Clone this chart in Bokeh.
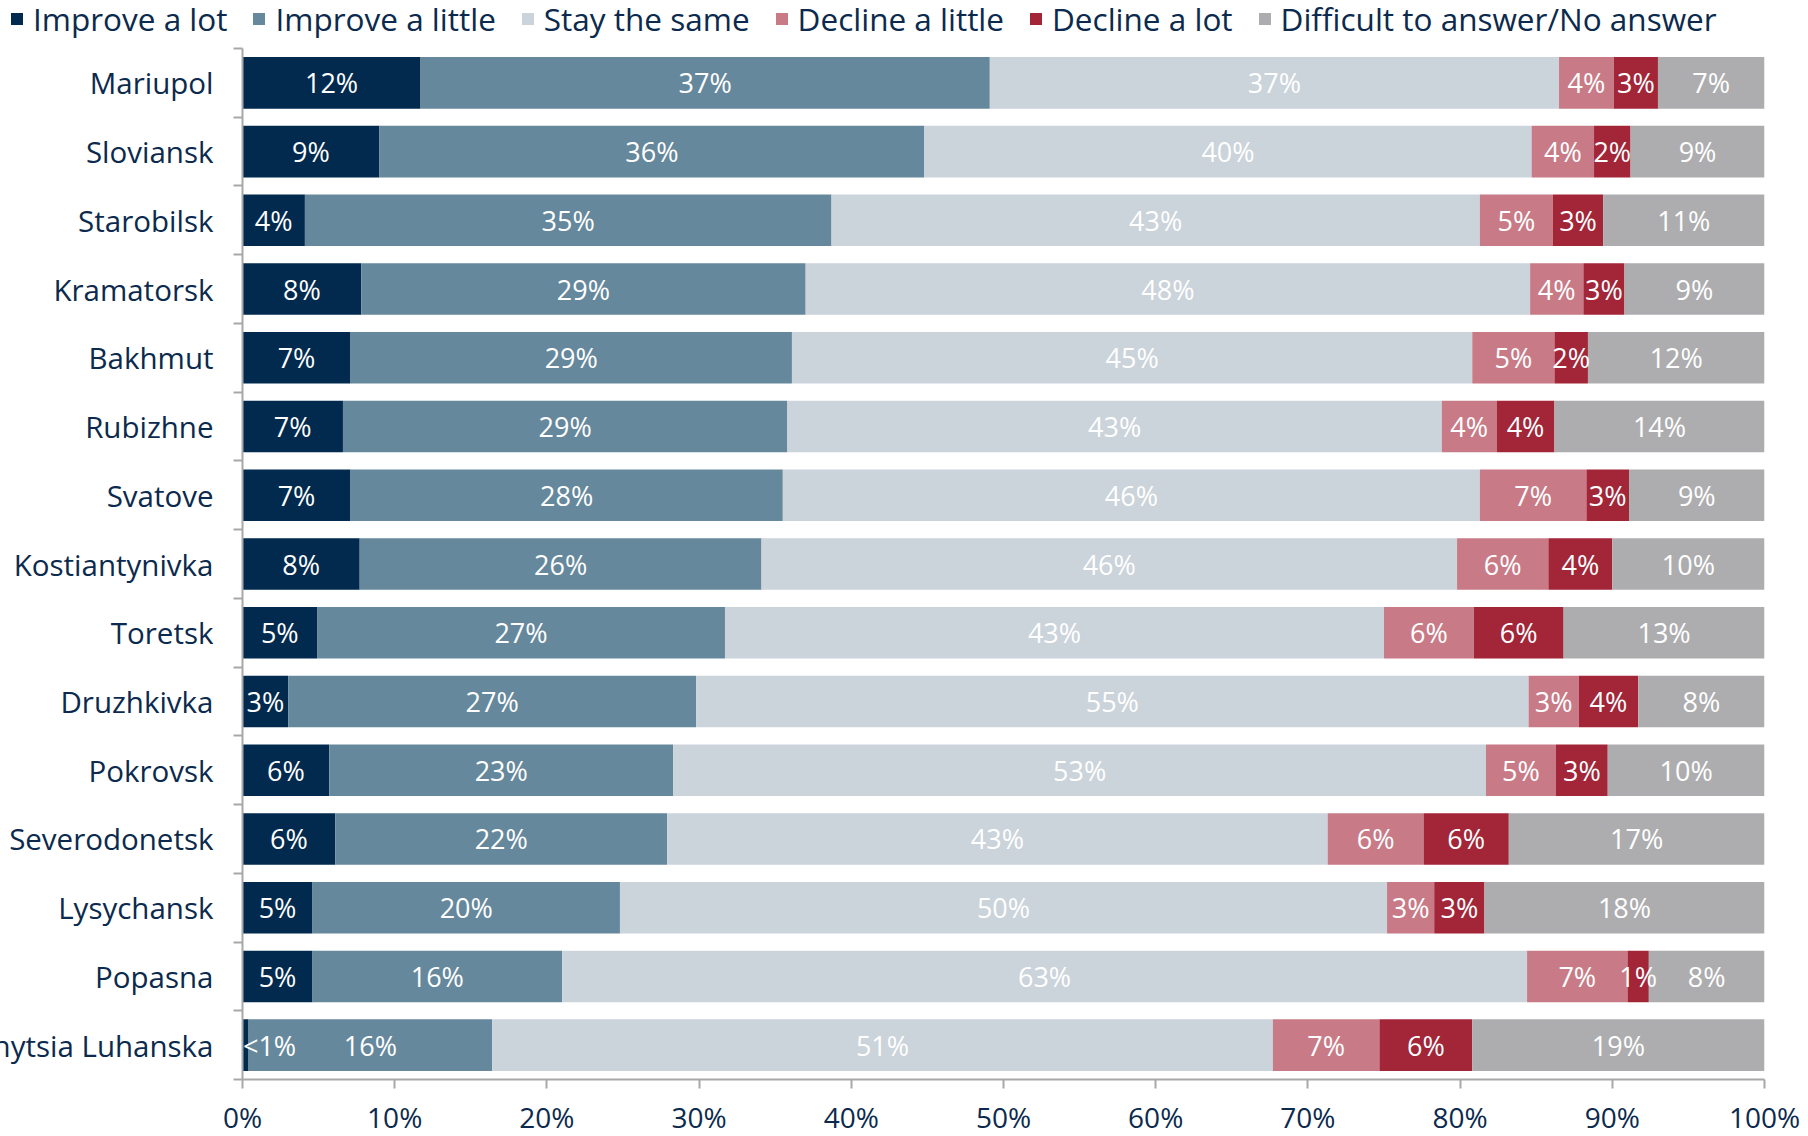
from bokeh.plotting import figure
from bokeh.layouts import column
from bokeh.models import ColumnDataSource, FixedTicker, Range1d, Legend, LegendItem
from bokeh.core.properties import value
from bokeh.embed import file_html
from bokeh.resources import INLINE

cities = ["Mariupol", "Sloviansk", "Starobilsk", "Kramatorsk", "Bakhmut", "Rubizhne",
          "Svatove", "Kostiantynivka", "Toretsk", "Druzhkivka", "Pokrovsk",
          "Severodonetsk", "Lysychansk", "Popasna", "Stanytsia Luhanska"]
series_names = ["Improve a lot", "Improve a little", "Stay the same",
                "Decline a little", "Decline a lot", "Difficult to answer/No answer"]
improve_lot = [11.7, 9.0, 4.1, 7.8, 7.1, 6.6, 7.1, 7.7, 4.9, 3.0, 5.7, 6.1, 4.6, 4.6, 0.4]
improve_little = [37.4, 35.8, 34.6, 29.2, 29.0, 29.2, 28.4, 26.4, 26.8, 26.8, 22.6, 21.8, 20.2, 16.4, 16.0]
stay_same = [37.4, 39.9, 42.6, 47.6, 44.7, 43.0, 45.8, 45.7, 43.3, 54.7, 53.4, 43.4, 50.4, 63.4, 51.3]
decline_little = [3.6, 4.1, 4.8, 3.5, 5.4, 3.6, 7.0, 6.0, 5.9, 3.3, 4.6, 6.3, 3.1, 6.6, 7.0]
decline_lot = [2.9, 2.4, 3.3, 2.7, 2.2, 3.8, 2.8, 4.2, 5.9, 3.9, 3.4, 5.6, 3.3, 1.4, 6.1]
no_answer = [7.0, 8.8, 10.6, 9.2, 11.6, 13.8, 8.9, 10.0, 13.2, 8.3, 10.3, 16.8, 18.4, 7.6, 19.2]
x_ticks = [0, 10, 20, 30, 40, 50, 60, 70, 80, 90, 100]

colors = ["#012a4e", "#66889c", "#cbd3db", "#c87b87", "#a22538", "#adadaf"]
text_navy = "#0b2a4d"
axis_gray = "#a8a8ab"
FONT = "Open Sans"

series = [improve_lot, improve_little, stay_same, decline_little, decline_lot, no_answer]
keys = ["s%d" % i for i in range(len(series))]
n = len(cities)
ys = [n - i - 0.5 for i in range(n)]

data = {"y": ys}
for k, s in zip(keys, series):
    data[k] = s
source = ColumnDataSource(data)

FH = 1031
p = figure(frame_width=1522, frame_height=FH, output_backend="svg", toolbar_location=None,
           x_range=Range1d(0, 100), y_range=Range1d(0, n),
           min_border_left=0, min_border_right=42, min_border_top=8, min_border_bottom=0)
p.outline_line_color = None
p.xgrid.grid_line_color = None
p.ygrid.grid_line_color = None
p.frame_align = False

rends = p.hbar_stack(keys, y="y", height=0.75, color=colors, source=source, line_width=0)

# data labels
lx, ly, lt, lo = [], [], [], []
for i in range(n):
    cum = 0.0
    for s in series:
        v = s[i]
        lx.append(cum + v / 2.0)
        ly.append(ys[i])
        lt.append("<1%" if v < 1 else "%d%%" % int(v + 0.5))
        lo.append(24 if v < 1 else 0)
        cum += v
lsrc = ColumnDataSource(dict(x=lx, y=ly, text=lt, xo=lo))
p.text(x="x", y="y", text="text", x_offset="xo", source=lsrc, text_color="white",
       text_font=value(FONT), text_font_size="27px", text_align="center",
       text_baseline="middle")

# y axis
yax = p.yaxis[0]
yax.ticker = FixedTicker(ticks=ys, minor_ticks=list(range(n + 1)))
yax.major_label_overrides = {y: c for y, c in zip(ys, cities)}
yax.major_tick_out = 0
yax.major_tick_in = 0
yax.minor_tick_out = 9
yax.minor_tick_in = 0
yax.minor_tick_line_color = axis_gray
yax.minor_tick_line_width = 2
yax.axis_line_color = axis_gray
yax.axis_line_width = 2
yax.major_label_text_font = FONT
yax.major_label_text_font_size = "29.5px"
yax.major_label_text_color = text_navy
yax.major_label_standoff = 20

# x axis
xax = p.xaxis[0]
xax.ticker = FixedTicker(ticks=x_ticks)
xax.major_label_overrides = {t: "%d%%" % t for t in x_ticks}
xax.major_tick_out = 9
xax.major_tick_in = 0
xax.minor_tick_out = 0
xax.minor_tick_in = 0
xax.major_tick_line_color = axis_gray
xax.major_tick_line_width = 2
xax.axis_line_color = axis_gray
xax.axis_line_width = 2
xax.major_label_text_font = FONT
xax.major_label_text_font_size = "28px"
xax.major_label_text_color = text_navy
xax.major_label_standoff = 9

# legend strip above the chart
lg = figure(width=1850, height=40, output_backend="svg", toolbar_location=None,
            x_axis_type=None, y_axis_type=None, x_range=Range1d(0, 1), y_range=Range1d(0, 1),
            min_border_left=0, min_border_right=0, min_border_top=0, min_border_bottom=0)
lg.outline_line_color = None
lg.xgrid.grid_line_color = None
lg.ygrid.grid_line_color = None
lg.frame_align = False
dummies = [lg.hbar(y=[5], left=[5], right=[6], height=1, color=c, line_width=0) for c in colors]
legend = Legend(items=[LegendItem(label=nm, renderers=[r]) for nm, r in zip(series_names, dummies)],
                orientation="horizontal", location=(63, 0))
legend.label_text_font = FONT
legend.label_text_font_size = "31.5px"
legend.label_text_color = text_navy
legend.glyph_width = 15
legend.glyph_height = 15
legend.label_standoff = 9
legend.spacing = 24
legend.padding = 0
legend.margin = 0
legend.border_line_color = None
legend.background_fill_alpha = 0
lg.add_layout(legend)

layout = column(lg, p, spacing=0)
layout.styles = {"margin-left": "-54px"}

open("out.html", "w").write(file_html(layout, INLINE))
